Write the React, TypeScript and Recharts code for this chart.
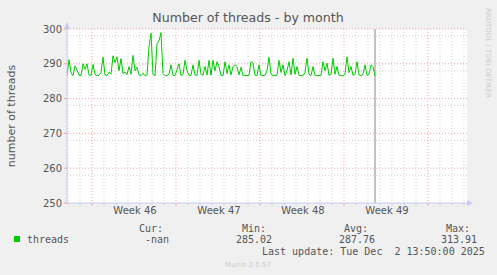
import React from "react";
import { LineChart, Line, XAxis, YAxis, CartesianGrid, ReferenceLine } from "recharts";

// samples every 4 hours
const SAMPLE_HOURS = 4;
const threads = [
  286.6, 291.2, 287.4, 286.6, 289.4, 288.3, 286.7, 286.6, 290.0, 288.4,
  290.0, 286.8, 286.6, 289.8, 287.0, 286.6, 286.7, 287.5, 291.9, 286.8,
  286.6, 287.6, 287.0, 292.3, 290.4, 292.0, 288.0, 291.5, 287.2, 287.6,
  286.9, 289.2, 287.0, 292.4, 288.0, 289.0, 286.8, 286.6, 287.3, 286.6,
  286.8, 295.0, 298.8, 287.0, 286.5, 295.8, 296.6, 299.0, 287.2, 286.6,
  286.6, 287.0, 289.7, 286.7, 286.6, 288.3, 290.0, 286.6, 287.0, 291.0,
  288.0, 286.7, 286.6, 289.7, 286.8, 286.6, 291.0, 287.0, 286.7, 289.2,
  286.8, 291.0, 286.7, 291.0, 288.0, 290.6, 289.2, 286.7, 286.6, 290.6,
  287.2, 289.7, 286.8, 289.2, 289.7, 289.2, 286.8, 289.0, 286.6, 286.6,
  286.6, 286.7, 290.6, 290.2, 286.7, 286.6, 289.7, 286.6, 286.6, 286.7,
  288.0, 291.9, 287.0, 286.6, 286.6, 286.7, 291.0, 287.5, 289.7, 286.6,
  288.0, 290.6, 286.8, 291.6, 287.0, 289.2, 286.7, 286.6, 286.6, 287.5,
  291.6, 287.0, 286.6, 289.2, 286.7, 286.6, 286.6, 286.7, 290.6, 288.0,
  290.2, 286.7, 287.0, 291.6, 287.0, 289.2, 286.7, 286.6, 286.6, 287.0,
  292.0, 287.5, 289.2, 286.7, 287.0, 290.6, 286.8, 286.6, 287.0, 289.7,
  286.7, 287.0, 289.7, 289.2, 286.6,
];
const data = threads.map((v, i) => ({ hour: i * SAMPLE_HOURS, threads: v }));

const yTicks = [250, 260, 270, 280, 290, 300];
const yMinor = [252, 254, 256, 258, 262, 264, 266, 268, 272, 274, 276, 278, 282, 284, 286, 288, 292, 294, 296, 298];
const weekTicks = [136, 304, 472, 640];
const weekLabels = ["Week 46", "Week 47", "Week 48", "Week 49"];
const weekStarts = [50, 218, 386, 554, 722];
const dayLines = [2, 26, 74, 98, 122, 146, 170, 194, 242, 266, 290, 314, 338, 362, 410, 434, 458, 482, 506, 530, 578, 602, 626, 650, 674, 698, 746, 770, 794];
const nowHour = 616;

const legendCols = [
  { label: "Cur:", value: "-nan", lx: 163, vx: 169 },
  { label: "Min:", value: "285.02", lx: 266, vx: 272 },
  { label: "Avg:", value: "287.76", lx: 368, vx: 375 },
  { label: "Max:", value: "313.91", lx: 470, vx: 477 },
];

const GREEN = "#00cc00";
const AXIS = "#c8c8f4";
const MINOR = "#cfcfcf";
const MAJOR = "#eba4a4";
const TXT = "#555";

export default function App() {
  return (
    <div style={{ position: "absolute", left: 0, top: 0, width: 497, height: 275, background: "#f0f0f0", fontFamily: "DejaVu Sans" }}>
      <LineChart width={497} height={275} data={data} margin={{ top: 29, right: 30, bottom: 0, left: 0 }}>
        <CartesianGrid fill="#fff" stroke={MINOR} strokeDasharray="1 2" horizontalValues={yMinor} verticalValues={dayLines} />
        <CartesianGrid stroke={MAJOR} strokeDasharray="1 2" horizontalValues={yTicks.slice(1)} verticalValues={weekStarts} />
        <XAxis
          type="number"
          dataKey="hour"
          domain={[0, 800]}
          ticks={weekTicks}
          tickFormatter={(v) => weekLabels[weekTicks.indexOf(v)]}
          height={72}
          tickLine={false}
          tickSize={2}
          axisLine={{ stroke: AXIS }}
          tick={{ fontSize: 10, fill: TXT, fontFamily: "DejaVu Sans" }}
          allowDataOverflow
        />
        <YAxis
          domain={[250, 300]}
          ticks={yTicks}
          width={67}
          tickSize={3}
          tickMargin={2}
          tickLine={{ stroke: MAJOR }}
          axisLine={{ stroke: AXIS }}
          tick={{ fontSize: 10, fill: TXT, fontFamily: "DejaVu Sans" }}
          allowDataOverflow
        />
        {weekStarts.map((h) => (
          <ReferenceLine key={"wt" + h} segment={[{ x: h, y: 250 }, { x: h, y: 249.2 }]} stroke={MAJOR} ifOverflow="visible" />
        ))}
        {dayLines.map((h) => (
          <ReferenceLine key={"dt" + h} segment={[{ x: h, y: 250 }, { x: h, y: 249.4 }]} stroke={MINOR} ifOverflow="visible" />
        ))}
        <ReferenceLine x={nowHour} stroke="#888" />
        <Line type="linear" dataKey="threads" stroke={GREEN} strokeWidth={1} dot={false} isAnimationActive={false} />
      </LineChart>
      <svg width={497} height={275} style={{ position: "absolute", left: 0, top: 0, pointerEvents: "none" }}>
        <polygon points="64,29 70,29 67,22" fill={AXIS} />
        <polygon points="467,200 467,206 473,203" fill={AXIS} />
        <text x={248} y={22} textAnchor="middle" fontSize={12.6} fill={TXT} fontFamily="DejaVu Sans">
          Number of threads - by month
        </text>
        <text
          x={11}
          y={116}
          textAnchor="middle"
          dominantBaseline="central"
          fontSize={11}
          fill={TXT}
          fontFamily="DejaVu Sans"
          transform="rotate(-90 11 116)"
        >
          number of threads
        </text>
        <text
          x={488}
          y={53}
          textAnchor="middle"
          dominantBaseline="central"
          fontSize={7}
          fill="#ccc"
          fontFamily="DejaVu Sans"
          transform="rotate(90 488 53)"
        >
          RRDTOOL / TOBI OETIKER
        </text>
        <g fontFamily="DejaVu Sans Mono" fontSize={10} fill={TXT}>
          <rect x={14} y={236} width={6} height={6} fill={GREEN} />
          <text x={27} y={243}>threads</text>
          {legendCols.map((c) => (
            <g key={c.label}>
              <text x={c.lx} y={232} textAnchor="end">{c.label}</text>
              <text x={c.vx} y={243} textAnchor="end">{c.value}</text>
            </g>
          ))}
          <text x={262} y={255} style={{ whiteSpace: "pre" }}>
            {"Last update: Tue Dec  2 13:50:00 2025"}
          </text>
        </g>
        <text x={248} y={267} textAnchor="middle" fontSize={7} fill="#ccc" fontFamily="DejaVu Sans">
          Munin 2.0.57
        </text>
      </svg>
    </div>
  );
}
